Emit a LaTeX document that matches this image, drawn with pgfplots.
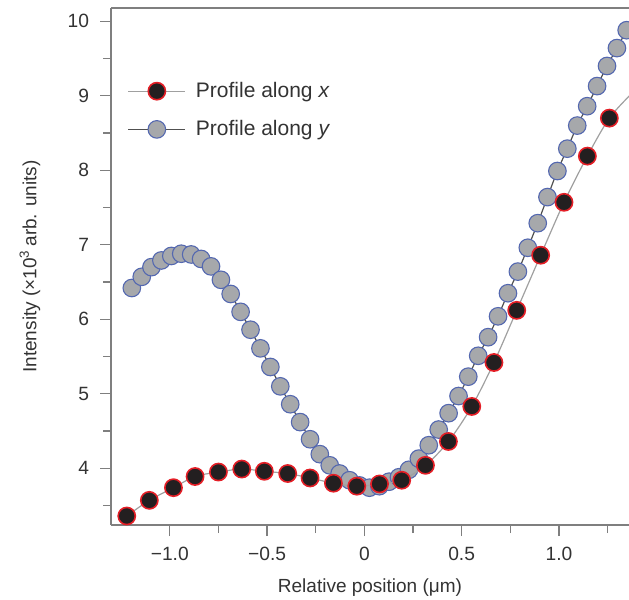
\documentclass[border=0pt]{standalone}
\usepackage{fontspec}
\setmainfont{Liberation Sans}
\usepackage{pgfplots}
\pgfplotsset{compat=1.18}

\definecolor{axisgray}{HTML}{7F7F7F}
\definecolor{textgray}{HTML}{333333}
\definecolor{xfill}{HTML}{231F20}
\definecolor{xedge}{HTML}{E41E26}
\definecolor{yfill}{HTML}{A6A8AB}
\definecolor{yedge}{HTML}{5468B0}
\definecolor{xline}{HTML}{A0A0A0}
\definecolor{yline}{HTML}{505050}

\pgfplotsset{
  xser/.style={color=xline, line width=0.6pt, smooth, mark=*, mark size=4.3pt,
    mark options={fill=xfill, draw=xedge, line width=0.8pt, solid}},
  yser/.style={color=yline, line width=0.6pt, smooth, mark=*, mark size=4.4pt,
    mark options={fill=yfill, draw=yedge, line width=0.55pt, solid}},
}

% intensity profile along x
\pgfplotstableread{
pos  val
-1.221 3.36
-1.105 3.57
-0.981 3.74
-0.870 3.89
-0.750 3.95
-0.630 3.99
-0.514 3.96
-0.394 3.93
-0.279 3.87
-0.159 3.80
-0.039 3.76
 0.078 3.79
 0.192 3.84
 0.314 4.04
 0.432 4.36
 0.552 4.83
 0.666 5.42
 0.783 6.12
 0.906 6.86
 1.026 7.57
 1.146 8.19
 1.259 8.70
 1.374 9.03
}\profx

% intensity profile along y
\pgfplotstableread{
pos  val
-1.195 6.42
-1.144 6.57
-1.094 6.70
-1.043 6.79
-0.992 6.85
-0.941 6.88
-0.890 6.87
-0.839 6.81
-0.788 6.71
-0.737 6.53
-0.687 6.34
-0.636 6.10
-0.585 5.86
-0.534 5.61
-0.483 5.36
-0.432 5.10
-0.381 4.86
-0.330 4.62
-0.279 4.39
-0.229 4.19
-0.178 4.04
-0.127 3.93
-0.076 3.84
-0.025 3.77
 0.026 3.74
 0.077 3.76
 0.127 3.82
 0.178 3.88
 0.229 3.98
 0.280 4.13
 0.331 4.31
 0.382 4.52
 0.433 4.74
 0.484 4.97
 0.534 5.23
 0.585 5.51
 0.636 5.76
 0.687 6.04
 0.738 6.35
 0.789 6.64
 0.840 6.96
 0.891 7.29
 0.941 7.64
 0.992 7.99
 1.043 8.29
 1.094 8.60
 1.145 8.86
 1.196 9.13
 1.247 9.40
 1.298 9.64
 1.348 9.88
 1.399 10.10
}\profy

\begin{document}
\begin{tikzpicture}
\begin{axis}[
  scale only axis, width=259pt, height=258.5pt,
  xmin=-1.302, xmax=1.360, ymin=3.239, ymax=10.178,
  axis x line*=bottom, axis y line*=left,
  axis line style={axisgray, line width=0.75pt, -},
  xtick={-1,-0.5,0,0.5,1}, xticklabels={−1.0,−0.5,0,0.5,1.0},
  minor xtick={-0.75,-0.25,0.25,0.75,1.25},
  ytick={4,5,6,7,8,9,10}, yticklabels={4,5,6,7,8,9,10},
  minor ytick={3.5,4.5,5.5,6.5,7.5,8.5,9.5},
  tick align=outside,
  major tick length=5.5pt, minor tick length=4pt,
  every tick/.style={axisgray, line width=0.6pt},
  tick label style={font=\fontsize{9.6}{11}\selectfont, text=textgray},
  xticklabel style={yshift=-2pt},
  yticklabel style={xshift=-2pt},
  xlabel={Relative position (μm)},
  ylabel={Intensity (×10\textsuperscript{3}\,arb. units)},
  every axis x label/.style={at={(axis description cs:0.5,-0.122)}, anchor=center,
    font=\fontsize{9.5}{11}\selectfont, text=textgray},
  every axis y label/.style={at={(axis description cs:-0.1564,0.5)}, anchor=center,
    rotate=90, font=\fontsize{9.5}{11}\selectfont, text=textgray},
  clip marker paths=true,
  legend cell align=left,
  legend image code/.code={
    \draw[mark repeat=2, mark phase=2, #1] plot coordinates {(0pt,0pt) (14.25pt,0pt) (28.5pt,0pt)};
  },
  legend style={draw=none, fill=none, at={(axis description cs:0.02,0.873)},
    anchor=north west, row sep=6pt, font=\fontsize{10.5}{12}\selectfont, text=textgray},
]
\addlegendimage{xser}
\addlegendentry{\hspace{3pt}Profile along \textit{x}}
\addlegendimage{yser}
\addlegendentry{\hspace{3pt}Profile along \textit{y}}

\addplot[yser, forget plot] table[x=pos, y=val] {\profy};
\addplot[xser, forget plot] table[x=pos, y=val] {\profx};

\draw[axisgray, line width=0.75pt] (rel axis cs:0,1) -- (rel axis cs:1,1);
\end{axis}
\pgfresetboundingbox
\path[use as bounding box] ([xshift=-55.5pt,yshift=-37pt]current axis.south west)
  rectangle ([yshift=4pt]current axis.north east);
\end{tikzpicture}
\end{document}
